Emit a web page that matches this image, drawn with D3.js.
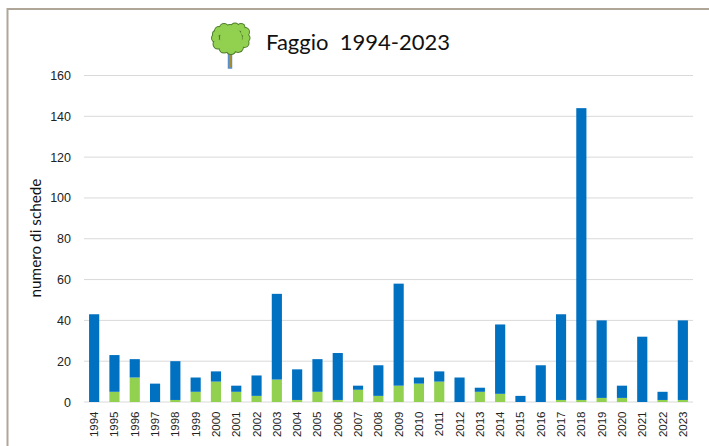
<!DOCTYPE html>
<html>
<head>
<meta charset="utf-8">
<script src="https://cdn.jsdelivr.net/npm/d3@7"></script>
<style>
  body { margin: 0; background: #fff; }
  svg { display: block; }
</style>
</head>
<body>
<svg></svg>
<script>
var years = [1994, 1995, 1996, 1997, 1998, 1999, 2000, 2001, 2002, 2003,
             2004, 2005, 2006, 2007, 2008, 2009, 2010, 2011, 2012, 2013,
             2014, 2015, 2016, 2017, 2018, 2019, 2020, 2021, 2022, 2023];
var greenValues = [0, 5, 12, 0, 1, 5, 10, 5, 3, 11,
                   1, 5, 1, 6, 3, 8, 9, 10, 0, 5,
                   4, 0, 0, 1, 1, 2, 2, 0, 1, 1];
var blueValues = [43, 18, 9, 9, 19, 7, 5, 3, 10, 42,
                  15, 16, 23, 2, 15, 50, 3, 5, 12, 2,
                  34, 3, 18, 42, 143, 38, 6, 32, 4, 39];
var yTicks = [0, 20, 40, 60, 80, 100, 120, 140, 160];

var svgWidth = 709, svgHeight = 446;
var plotLeft = 84, plotRight = 693, plotTop = 75.5, plotBottom = 402;

var svg = d3.select("svg")
    .attr("width", svgWidth)
    .attr("height", svgHeight);

// outer frame, runs off the right and bottom of the picture
svg.append("path")
    .attr("d", "M7.5," + svgHeight + "V9H" + svgWidth)
    .attr("fill", "none")
    .attr("stroke", "#b0a698")
    .attr("stroke-width", 2);

var x = d3.scaleBand().domain(years).range([plotLeft, plotRight]).paddingInner(0.5).paddingOuter(0.25);
var y = d3.scaleLinear().domain([0, 160]).range([plotBottom, plotTop]);

// gridlines
svg.append("g").selectAll("line")
    .data(yTicks)
    .enter()
    .append("line")
    .attr("x1", plotLeft)
    .attr("x2", plotRight)
    .attr("y1", function(d) { return y(d); })
    .attr("y2", function(d) { return y(d); })
    .attr("stroke", "#d9d9d9")
    .attr("stroke-width", 1);

// y axis labels
var yAxis = d3.axisLeft(y).tickValues(yTicks).tickSize(0).tickPadding(13);
var gy = svg.append("g")
    .attr("transform", "translate(" + plotLeft + ",0)")
    .call(yAxis);
gy.select(".domain").remove();
gy.selectAll("text")
    .attr("font-family", "'Liberation Sans', Arial, sans-serif")
    .attr("font-size", 12.5)
    .attr("fill", "#222");

// x axis labels
var xAxis = d3.axisBottom(x).tickSize(0).tickPadding(0);
var gx = svg.append("g")
    .attr("transform", "translate(0," + plotBottom + ")")
    .call(xAxis);
gx.select(".domain").remove();
gx.selectAll("text")
    .attr("font-family", "'Liberation Sans', Arial, sans-serif")
    .attr("font-size", 11.5)
    .attr("fill", "#222")
    .attr("text-anchor", "end")
    .attr("y", 0)
    .attr("dy", "0.35em")
    .attr("transform", "translate(0,9.5) rotate(-90)");

// stacked bars
var table = years.map(function(year, i) {
    return { year: year, green: greenValues[i], blue: blueValues[i] };
});
var stack = d3.stack().keys(["green", "blue"]);
var color = d3.scaleOrdinal().domain(["green", "blue"]).range(["#92d050", "#0070c0"]);

var layers = svg.append("g").selectAll("g")
    .data(stack(table))
    .enter()
    .append("g")
    .attr("fill", function(d) { return color(d.key); });

layers.selectAll("rect")
    .data(function(d) { return d; })
    .enter()
    .append("rect")
    .attr("x", function(d) { return x(d.data.year); })
    .attr("width", x.bandwidth())
    .attr("y", function(d) { return y(d[1]); })
    .attr("height", function(d) { return y(d[0]) - y(d[1]); });

// axis title
svg.append("text")
    .attr("transform", "translate(41,238) rotate(-90)")
    .attr("text-anchor", "middle")
    .attr("font-family", "Lato, sans-serif")
    .attr("font-size", 15.3)
    .attr("fill", "#111")
    .text("numero di schede");

// chart title
svg.append("text")
    .attr("x", 266)
    .attr("y", 50)
    .attr("font-family", "Lato, sans-serif")
    .attr("font-size", 22)
    .attr("fill", "#111")
    .style("white-space", "pre")
    .text("Faggio  1994-2023");

// tree icon
var tree = svg.append("g");
tree.append("rect")
    .attr("x", 228.5)
    .attr("y", 53)
    .attr("width", 3)
    .attr("height", 15)
    .attr("fill", "#bf8f00")
    .attr("stroke", "#5b8fc9")
    .attr("stroke-width", 1.5);
var blobs = [[219, 31, 4], [224, 28, 4], [230, 29, 4], [235, 27, 3.5], [241, 27.5, 3.5], [245, 32, 4],
             [246, 38, 3.5], [244.5, 43, 4], [238, 47, 5], [231, 49.5, 4.5], [224, 48, 4.5], [218, 44, 4.5],
             [215.5, 38, 3.5], [216, 34, 3], [231, 38, 11]];
tree.selectAll(".outline")
    .data(blobs)
    .enter()
    .append("circle")
    .attr("cx", function(d) { return d[0]; })
    .attr("cy", function(d) { return d[1]; })
    .attr("r", function(d) { return d[2] + 1; })
    .attr("fill", "#4e7d2a");
tree.selectAll(".fill")
    .data(blobs)
    .enter()
    .append("circle")
    .attr("cx", function(d) { return d[0]; })
    .attr("cy", function(d) { return d[1]; })
    .attr("r", function(d) { return d[2]; })
    .attr("fill", "#92d050");
</script>
</body>
</html>
